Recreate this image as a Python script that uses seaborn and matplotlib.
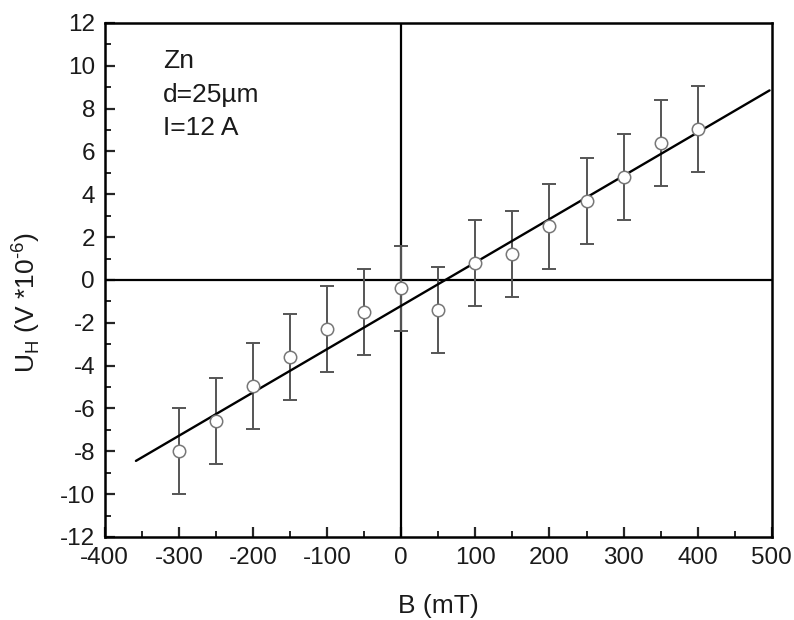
import numpy as np
import pandas as pd
import matplotlib
matplotlib.use("Agg")
import matplotlib.pyplot as plt
from matplotlib.ticker import MultipleLocator
import seaborn as sns

# measured Hall voltage vs field
field_mT = [-300, -250, -200, -150, -100, -50, 0, 50, 100, 150, 200, 250, 300, 350, 400]
hall_uV = [-8.0, -6.6, -4.95, -3.6, -2.3, -1.5, -0.4, -1.4, 0.8, 1.2, 2.5, 3.7, 4.8, 6.4, 7.05]
hall_err = [2.0] * 15

# linear fit line (end points)
fit_x = [-358, 497]
fit_y = [-8.45, 8.85]

df = pd.DataFrame({"B": field_mT, "U": hall_uV, "err": hall_err})
fit = pd.DataFrame({"B": fit_x, "U": fit_y})

sns.set_style("white")
plt.rcParams["font.family"] = ["Liberation Sans", "DejaVu Sans"]
plt.rcParams["mathtext.fontset"] = "custom"
plt.rcParams["mathtext.rm"] = "Liberation Sans"
plt.rcParams["axes.unicode_minus"] = False

fig = plt.figure(figsize=(7.94, 6.2), dpi=100)
ax = fig.add_axes([0.132, 0.134, 0.840, 0.829])

# zero lines
ax.axhline(0, color="black", lw=1.6, zorder=1)
ax.axvline(0, color="black", lw=1.6, zorder=1)

ax.errorbar(df["B"], df["U"], yerr=df["err"], fmt="none", ecolor="#555555",
            elinewidth=1.4, capsize=5, capthick=1.4, zorder=2)
sns.lineplot(data=fit, x="B", y="U", color="black", lw=1.7, ax=ax, zorder=3)
sns.scatterplot(data=df, x="B", y="U", marker="o", s=80, facecolor="white",
                edgecolor="#777777", linewidth=1.1, ax=ax, zorder=4)

ax.set_xlim(-400, 500)
ax.set_ylim(-12, 12)
ax.xaxis.set_major_locator(MultipleLocator(100))
ax.xaxis.set_minor_locator(MultipleLocator(50))
ax.yaxis.set_major_locator(MultipleLocator(2))
ax.yaxis.set_minor_locator(MultipleLocator(1))
ax.tick_params(which="major", direction="in", length=7, width=1.6, labelsize=17.5,
               bottom=True, left=True, pad=7, labelcolor="#1a1a1a")
ax.tick_params(which="minor", direction="in", length=4, width=1.4, bottom=True, left=True)
for s in ax.spines.values():
    s.set_linewidth(1.8)
    s.set_color("black")

ax.set_xlabel("B (mT)", fontsize=19, labelpad=18, color="#1a1a1a")
ax.set_ylabel("U$_\\mathregular{H}$ (V *10$^\\mathregular{\u20106}$)", fontsize=19, color="#1a1a1a")
ax.yaxis.set_label_coords(-0.094, 0.455)

ax.text(0.087, 0.949, "Zn\nd=25\u00b5m\nI=12 A", transform=ax.transAxes, fontsize=19,
        va="top", ha="left", linespacing=1.5, color="#1a1a1a")

fig.savefig("out.png", dpi=100)
